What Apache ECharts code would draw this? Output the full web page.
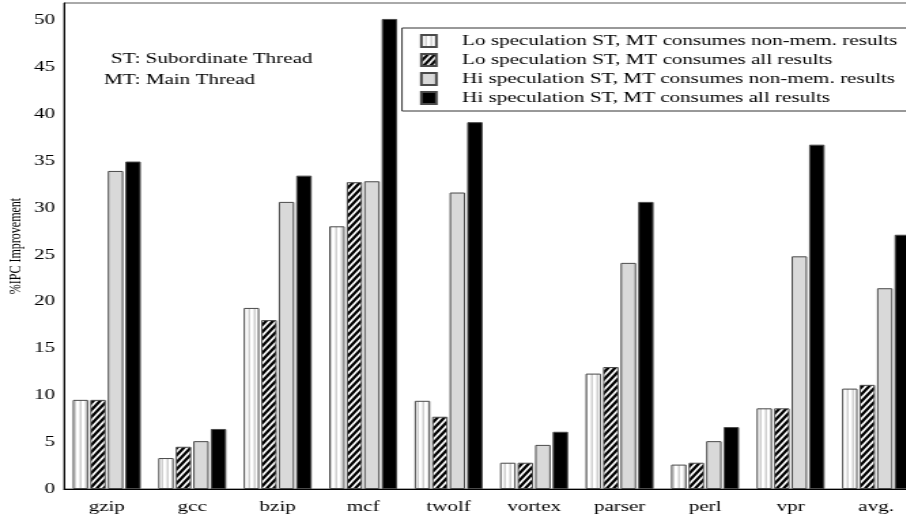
<!DOCTYPE html>
<html>
<head>
<meta charset="utf-8">
<script src="https://cdn.jsdelivr.net/npm/echarts@6/dist/echarts.min.js"></script>
<style>
  html, body { margin: 0; padding: 0; background: #fff; overflow: hidden; }
  #frame { width: 906px; height: 523px; overflow: hidden; position: relative; }
  /* the figure is drawn in a narrower box and widened, giving the wide serif lettering */
  #chart { position: absolute; left: 0; top: 0; height: 523px; transform-origin: 0 0; }
</style>
</head>
<body>
<div id="frame"><div id="chart"></div></div>
<script>
// Benchmarks on the x axis
const benchmarks = ['gzip', 'gcc', 'bzip', 'mcf', 'twolf', 'vortex', 'parser', 'perl', 'vpr', 'avg.'];

// % IPC improvement per configuration
const loNonMem = [9.5, 3.3, 19.3, 28.0, 9.4, 2.8, 12.3, 2.6, 8.6, 10.7];
const loAll    = [9.5, 4.5, 18.0, 32.7, 7.7, 2.8, 13.0, 2.8, 8.6, 11.1];
const hiNonMem = [33.9, 5.1, 30.6, 32.8, 31.6, 4.7, 24.1, 5.1, 24.8, 21.4];
const hiAll    = [34.9, 6.4, 33.4, 50.1, 39.1, 6.1, 30.6, 6.6, 36.7, 27.1];

const seriesNames = [
  'Lo speculation ST, MT consumes non-mem. results',
  'Lo speculation ST, MT consumes all results',
  'Hi speculation ST, MT consumes non-mem. results',
  'Hi speculation ST, MT consumes all results'
];

const yTicks = { min: 0, max: 51.8, step: 5 };

// horizontal widening factor of the figure
const SX = 1.36;
const W = 906, H = 523;
const X = px => px / SX;   // screen px -> layout px along x

const el = document.getElementById('chart');
el.style.width = (W / SX) + 'px';
el.style.transform = 'scaleX(' + SX + ')';

// Fill patterns (drawn in layout space, widened with the figure)
function verticalStripes() {
  const c = document.createElement('canvas');
  c.width = 4; c.height = 4;
  const g = c.getContext('2d');
  g.fillStyle = '#ffffff';
  g.fillRect(0, 0, 4, 4);
  g.fillStyle = '#cfcfcf';
  g.fillRect(2.5, 0, 1.5, 4);
  return c;
}
function diagonalHatch() {
  const w = 5, h = 7;
  const c = document.createElement('canvas');
  c.width = w; c.height = h;
  const g = c.getContext('2d');
  g.fillStyle = '#ffffff';
  g.fillRect(0, 0, w, h);
  g.strokeStyle = '#000000';
  g.lineWidth = 2.3;
  g.beginPath();
  g.moveTo(-w * 0.2, h * 1.2); g.lineTo(w * 1.2, -h * 0.2);
  g.moveTo(-w * 0.7, h * 0.7); g.lineTo(w * 0.7, -h * 0.7);
  g.moveTo(w * 0.3, h * 1.7); g.lineTo(w * 1.7, h * 0.3);
  g.stroke();
  return c;
}

const fills = [
  { image: verticalStripes(), repeat: 'repeat' },
  { image: diagonalHatch(), repeat: 'repeat' },
  '#d9d9d9',
  '#000000'
];
const values = [loNonMem, loAll, hiNonMem, hiAll];

const serif = '"Liberation Serif", "Times New Roman", serif';

const chart = echarts.init(el, null, { renderer: 'canvas', devicePixelRatio: 1 });

chart.setOption({
  animation: false,
  backgroundColor: '#ffffff',
  grid: {
    left: X(64), top: 3, right: X(-13), bottom: 34,
    outerBoundsMode: 'none',
    containLabel: false,
    show: true, borderColor: '#555555', borderWidth: 1, backgroundColor: 'transparent'
  },
  legend: {
    orient: 'vertical',
    left: X(402), top: 28,
    padding: [5, 40, 5, X(18)],
    itemGap: 3,
    itemWidth: X(15), itemHeight: 12,
    borderColor: '#333333', borderWidth: 1,
    backgroundColor: '#ffffff',
    icon: 'rect',
    selectedMode: false,
    textStyle: { fontFamily: serif, fontSize: 15.5, color: '#000', padding: [0, 0, 0, X(19)] },
    data: seriesNames
  },
  xAxis: {
    type: 'category',
    data: benchmarks,
    axisLine: { show: true, lineStyle: { color: '#000', width: 1.2 } },
    axisTick: { show: false },
    axisLabel: { fontFamily: serif, fontSize: 15.5, color: '#000', margin: 10 }
  },
  yAxis: {
    type: 'value',
    min: yTicks.min, max: yTicks.max, interval: yTicks.step,
    name: '%IPC Improvement',
    nameLocation: 'middle',
    nameGap: X(40),
    nameMoveOverlap: false,
    nameTextStyle: { fontFamily: serif, fontSize: 12, color: '#000' },
    axisLine: { show: true, lineStyle: { color: '#000', width: 1 } },
    axisTick: { show: false },
    splitLine: { show: false },
    axisLabel: {
      fontFamily: serif, fontSize: 15.5, color: '#000', margin: X(9),
      showMaxLabel: false
    }
  },
  graphic: [
    { type: 'text', left: X(111), top: 51,
      style: { text: 'ST: Subordinate Thread', fontFamily: serif, fontSize: 15.5, fill: '#000' } },
    { type: 'text', left: X(104), top: 72,
      style: { text: 'MT: Main Thread', fontFamily: serif, fontSize: 15.5, fill: '#000' } }
  ],
  series: values.map((v, i) => ({
    name: seriesNames[i],
    type: 'bar',
    data: v,
    barWidth: X(15.5),
    barGap: '13%',
    itemStyle: { color: fills[i], borderColor: '#4a4a4a', borderWidth: 1 },
    emphasis: { disabled: true }
  }))
});
</script>
</body>
</html>
